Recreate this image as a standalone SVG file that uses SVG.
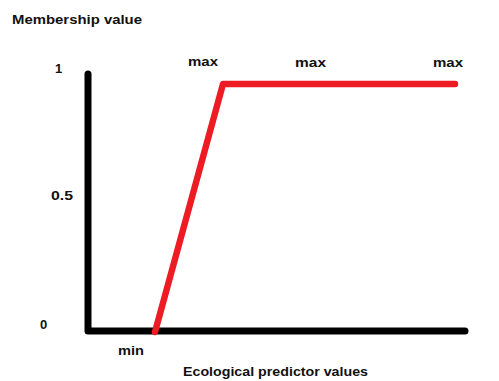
<svg xmlns="http://www.w3.org/2000/svg" width="499" height="381" viewBox="0 0 499 381">
<style>
.t{font-family:"Liberation Sans",Arial,sans-serif;font-weight:bold;font-size:13px;fill:#111}
.ax{stroke:#000;stroke-width:7;fill:none;stroke-linecap:round;stroke-linejoin:round}
.fn{stroke:#ed1c24;stroke-width:6.5;fill:none;stroke-linecap:round;stroke-linejoin:round}
</style>
<rect width="499" height="381" fill="#fff"/>
<g id="connectors">
<path class="ax" d="M88,74 L88,331 L465,331"/>
<path class="fn" d="M155,332 L223,84 L455,84"/>
</g>
<g id="labels">
<text class="t" x="12" y="24" font-size="14" textLength="130" lengthAdjust="spacingAndGlyphs">Membership value</text>
<text class="t" x="55" y="73">1</text>
<text class="t" x="51" y="200" textLength="22" lengthAdjust="spacingAndGlyphs">0.5</text>
<text class="t" x="40" y="329">0</text>
<text class="t" x="188" y="66" textLength="30" lengthAdjust="spacingAndGlyphs">max</text>
<text class="t" x="295" y="67" textLength="31" lengthAdjust="spacingAndGlyphs">max</text>
<text class="t" x="433" y="67" textLength="30" lengthAdjust="spacingAndGlyphs">max</text>
<text class="t" x="118" y="355" textLength="26" lengthAdjust="spacingAndGlyphs">min</text>
<text class="t" x="183" y="376" textLength="185" lengthAdjust="spacingAndGlyphs">Ecological predictor values</text>
</g>
</svg>
